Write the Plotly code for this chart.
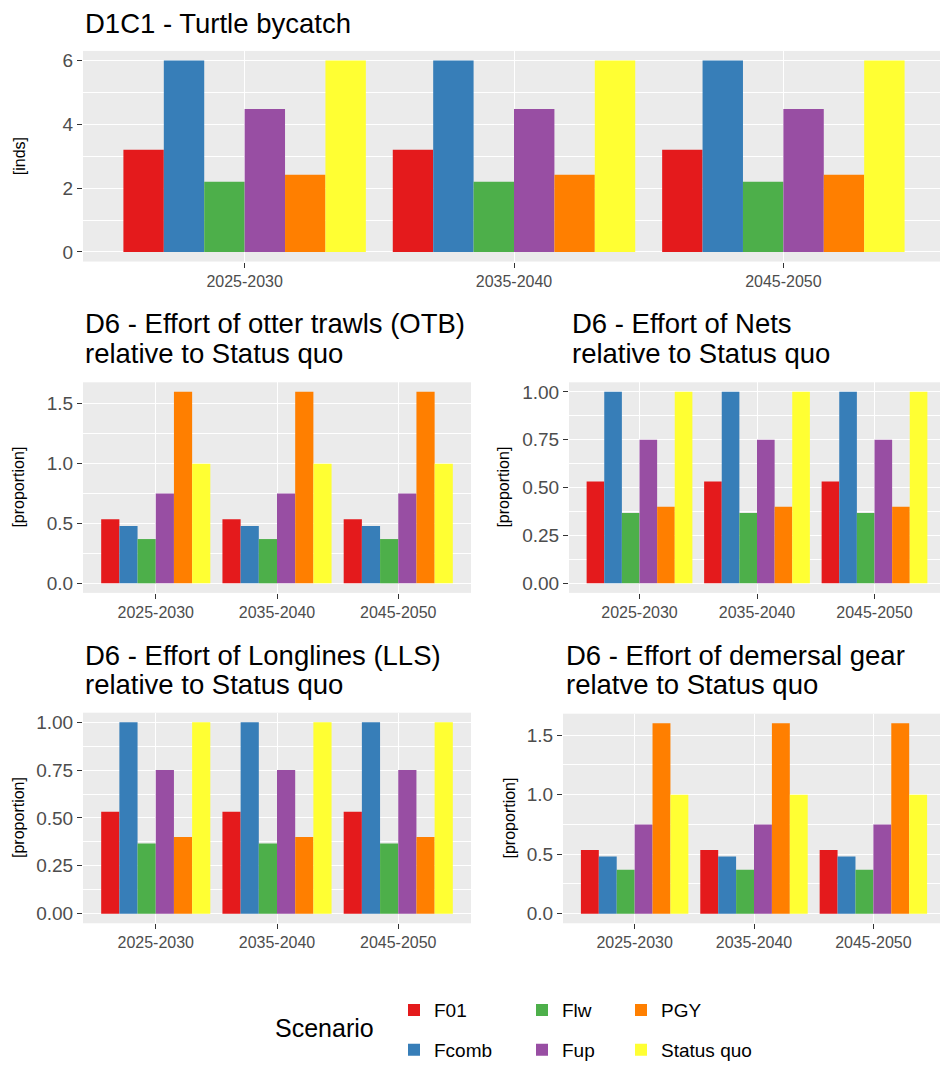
import plotly.graph_objects as go

# ---------------- data ----------------
periods = ["2025-2030", "2035-2040", "2045-2050"]
scenarios = ["F01", "Fcomb", "Flw", "Fup", "PGY", "Status quo"]
scenario_colors = ["#E41A1C", "#377EB8", "#4DAF4A", "#984EA3", "#FF7F00", "#FFFF33"]

turtle_bycatch = {
    "F01": [3.2, 3.2, 3.2],
    "Fcomb": [6.0, 6.0, 6.0],
    "Flw": [2.2, 2.2, 2.2],
    "Fup": [4.48, 4.48, 4.48],
    "PGY": [2.42, 2.42, 2.42],
    "Status quo": [6.0, 6.0, 6.0],
}
effort_otb = {
    "F01": [0.535, 0.535, 0.535],
    "Fcomb": [0.48, 0.48, 0.48],
    "Flw": [0.37, 0.37, 0.37],
    "Fup": [0.75, 0.75, 0.75],
    "PGY": [1.6, 1.6, 1.6],
    "Status quo": [1.0, 1.0, 1.0],
}
effort_nets = {
    "F01": [0.532, 0.532, 0.532],
    "Fcomb": [1.0, 1.0, 1.0],
    "Flw": [0.367, 0.367, 0.367],
    "Fup": [0.75, 0.75, 0.75],
    "PGY": [0.40, 0.40, 0.40],
    "Status quo": [1.0, 1.0, 1.0],
}
effort_lls = {
    "F01": [0.532, 0.532, 0.532],
    "Fcomb": [1.0, 1.0, 1.0],
    "Flw": [0.367, 0.367, 0.367],
    "Fup": [0.75, 0.75, 0.75],
    "PGY": [0.40, 0.40, 0.40],
    "Status quo": [1.0, 1.0, 1.0],
}
effort_demersal = {
    "F01": [0.535, 0.535, 0.535],
    "Fcomb": [0.48, 0.48, 0.48],
    "Flw": [0.37, 0.37, 0.37],
    "Fup": [0.75, 0.75, 0.75],
    "PGY": [1.6, 1.6, 1.6],
    "Status quo": [1.0, 1.0, 1.0],
}

titles = [
    ["D1C1 - Turtle bycatch"],
    ["D6 - Effort of otter trawls (OTB)", "relative to Status quo"],
    ["D6 - Effort of Nets", "relative to Status quo"],
    ["D6 - Effort of Longlines (LLS)", "relative to Status quo"],
    ["D6 - Effort of demersal gear", "relatve to Status quo"],
]
y_titles = ["[inds]", "[proportion]", "[proportion]", "[proportion]", "[proportion]"]
legend_title = "Scenario"

# ---------------- layout geometry (page pixels) ----------------
PAGE_OFF = 8            # default body margin of the html page
W, H = 940, 1062        # figure size so that it fills the 948x1070 window
FONT = "Liberation Sans, Arial, sans-serif"

panels = [
    dict(data=turtle_bycatch, l=83, r=945, t=50, b=261, ytx=19, dtick=2, minor=1, fmt="d"),
    dict(data=effort_otb, l=83, r=471, t=382, b=593, ytx=19, dtick=0.5, minor=0.25, fmt=".1f"),
    dict(data=effort_nets, l=569, r=945, t=382, b=593, ytx=504, dtick=0.25, minor=0.125, fmt=".2f"),
    dict(data=effort_lls, l=83, r=471, t=713, b=924, ytx=19, dtick=0.25, minor=0.125, fmt=".2f"),
    dict(data=effort_demersal, l=563, r=945, t=714, b=924, ytx=509, dtick=0.5, minor=0.25, fmt=".1f"),
]
title_baselines = [[32], [333, 363], [333, 363], [665, 694], [665, 694]]
title_x = [83, 83, 570, 83, 564]

legend_of = {"F01": "legend", "Fcomb": "legend", "Flw": "legend2", "Fup": "legend2",
             "PGY": "legend3", "Status quo": "legend3"}


def px_x(v):
    return (v - PAGE_OFF) / W


def px_y(v):
    return 1 - (v - PAGE_OFF) / H


fig = go.Figure()
annotations = []
for i, p in enumerate(panels):
    k = "" if i == 0 else str(i + 1)
    xa, ya = "x" + k, "y" + k
    for s, c in zip(scenarios, scenario_colors):
        fig.add_trace(go.Bar(
            x=periods, y=p["data"][s], name=s, marker=dict(color=c, line=dict(width=0)),
            xaxis=xa, yaxis=ya, legendgroup=s, showlegend=(i == 0),
            legend=legend_of[s],
        ))
    ymax = max(max(v) for v in p["data"].values())
    ymin = min(0, min(min(v) for v in p["data"].values()))
    span = ymax - ymin
    axis_common = dict(
        showgrid=True, gridcolor="white", gridwidth=1.4, zeroline=False, showline=False,
        ticks="outside", ticklen=5, tickwidth=1.1, tickcolor="#333333",
    )
    fig.layout["xaxis" + k] = dict(
        axis_common, domain=[px_x(p["l"]), px_x(p["r"])], anchor=ya,
        type="category", categoryorder="array", categoryarray=periods,
        range=[-0.6, len(periods) - 0.4],
        tickfont=dict(family=FONT, size=16, color="#4D4D4D"),
    )
    fig.layout["yaxis" + k] = dict(
        axis_common, domain=[px_y(p["b"]), px_y(p["t"])], anchor=xa,
        range=[ymin - 0.05 * span, ymax + 0.05 * span],
        dtick=p["dtick"], tick0=0, tickformat=p["fmt"],
        minor=dict(dtick=p["minor"], tick0=0, showgrid=True, gridcolor="white", gridwidth=0.7, ticks=""),
        tickfont=dict(family=FONT, size=19, color="#4D4D4D"),
    )
    for line, base in zip(titles[i], title_baselines[i]):
        annotations.append(dict(
            text=line, xref="paper", yref="paper", x=px_x(title_x[i]), y=px_y(base - 9.5),
            xanchor="left", yanchor="middle", showarrow=False,
            font=dict(family=FONT, size=27.5, color="black"),
        ))
    annotations.append(dict(
        text=y_titles[i], xref="paper", yref="paper", x=px_x(p["ytx"]),
        y=px_y((p["t"] + p["b"]) / 2), xanchor="center", yanchor="middle",
        textangle=-90, showarrow=False, font=dict(family=FONT, size=16, color="black"),
    ))

# legend title, centred vertically between the two legend rows
annotations.append(dict(
    text=legend_title, xref="paper", yref="paper", x=px_x(324), y=px_y(1029),
    xanchor="center", yanchor="middle", showarrow=False,
    font=dict(family=FONT, size=25, color="black"),
))

leg_common = dict(orientation="v", xanchor="left", yanchor="top",
                  font=dict(family=FONT, size=19, color="black"),
                  tracegroupgap=12, bgcolor="rgba(0,0,0,0)", itemclick=False)
fig.update_layout(
    width=W, height=H, margin=dict(l=0, r=0, t=0, b=0),
    paper_bgcolor="white", plot_bgcolor="#EBEBEB",
    barmode="group", bargap=0.1, bargroupgap=0,
    font=dict(family=FONT),
    annotations=annotations,
    legend=dict(leg_common, x=px_x(394), y=px_y(992)),
    legend2=dict(leg_common, x=px_x(522), y=px_y(992)),
    legend3=dict(leg_common, x=px_x(621), y=px_y(992)),
)

fig.write_html("out.html")
